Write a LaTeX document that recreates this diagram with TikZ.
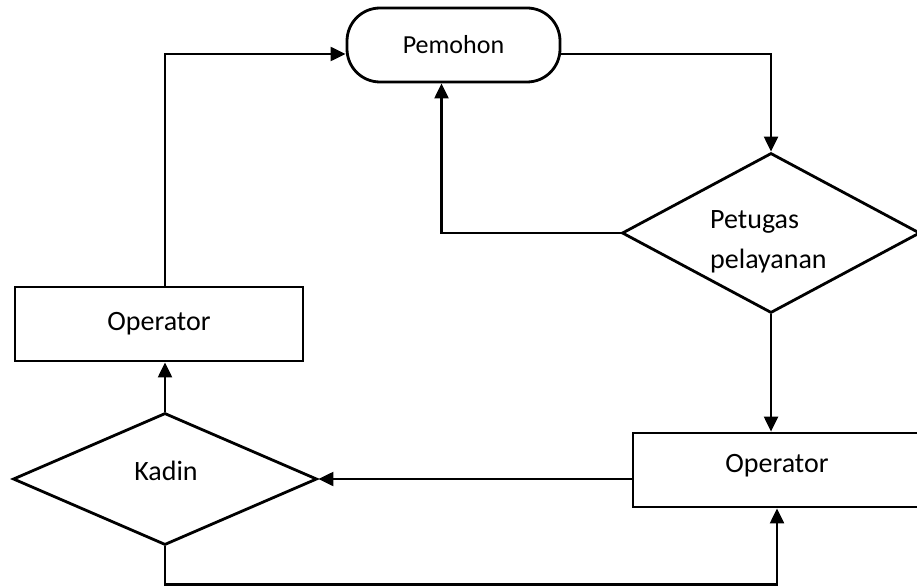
\documentclass[tikz,border=0pt]{standalone}
\usepackage{fontspec}
\setmainfont{Carlito}
\usetikzlibrary{shapes.geometric,arrows.meta,calc}
\begin{document}
\begin{tikzpicture}[x=1pt,y=-1pt,
  box/.style={draw,line width=2.8pt,rectangle,minimum height=74pt,inner sep=0pt,font=\fontsize{28}{34}\selectfont},
  dec/.style={draw,line width=2.8pt,diamond,inner sep=0pt},
  lbl/.style={font=\fontsize{28}{34}\selectfont,inner sep=0pt},
  conn/.style={line width=2.2pt},
  arr/.style={conn,-{Triangle[length=15pt,width=14pt]}}]
\useasboundingbox (0,0) rectangle (917,588);
\clip (0,0) rectangle (917,588);
% nodes
\node[draw,line width=2.8pt,rounded corners=33pt,minimum width=213pt,minimum height=74pt,inner sep=0pt,font=\fontsize{26}{30}\selectfont] (pem) at (453.5,45) {Pemohon};
\node[dec,minimum width=298pt,minimum height=160pt] (pet) at (771,233) {};
\node[lbl,anchor=base west] (petA) at (710,228) {Petugas};
\node[lbl,anchor=base west] (petB) at (710,268) {pelayanan};
\node[box,minimum width=310pt] (opR) at (788,470) {};
\node[lbl] (opRT) at (777,466) {Operator};
\node[dec,minimum width=304pt,minimum height=132pt] (kad) at (165,479) {};
\node[lbl] (kadT) at (166,471) {Kadin};
\node[box,minimum width=288pt] (opL) at (159,324) {Operator};
% connectors
\draw[arr] (opL.north -| kad.north) |- ($(pem.west)+(0,9)$);
\draw[arr] ($(pem.east)+(0,9)$) -| (pet.north);
\draw[arr] (pet.west) -| ([xshift=-12pt]pem.south);
\draw[arr] (pet.south) -- (pet.south |- opR.north);
\draw[arr] (opR.west |- kad.east) -- (kad.east);
\draw[arr] (kad.north) -- (kad.north |- opL.south);
\draw[arr] (kad.south) -- ++(0,38) -| (opRT.south |- opR.south);
\end{tikzpicture}
\end{document}
